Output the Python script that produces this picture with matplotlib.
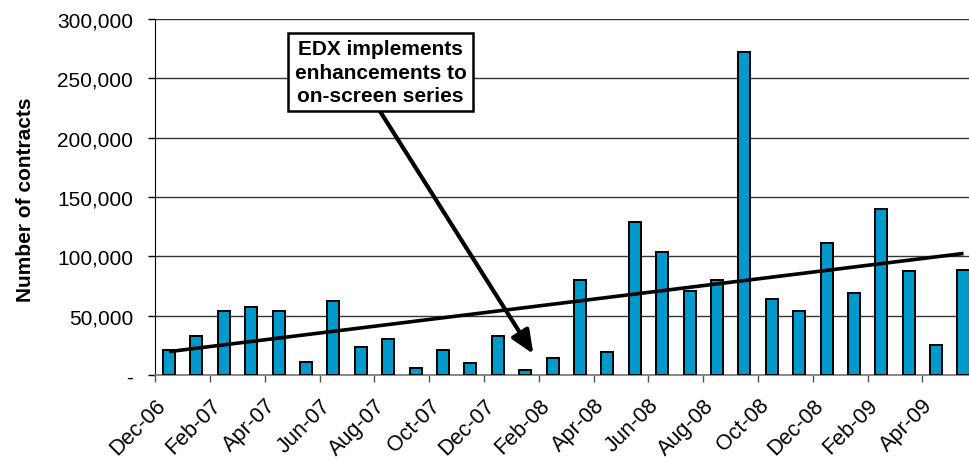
import matplotlib
matplotlib.use("Agg")
import matplotlib.pyplot as plt
import numpy as np

plt.rcParams['font.family'] = ['Liberation Sans', 'DejaVu Sans']

months = ["Dec-06", "Jan-07", "Feb-07", "Mar-07", "Apr-07", "May-07", "Jun-07", "Jul-07",
          "Aug-07", "Sep-07", "Oct-07", "Nov-07", "Dec-07", "Jan-08", "Feb-08", "Mar-08",
          "Apr-08", "May-08", "Jun-08", "Jul-08", "Aug-08", "Sep-08", "Oct-08", "Nov-08",
          "Dec-08", "Jan-09", "Feb-09", "Mar-09", "Apr-09", "May-09"]
contracts = [21100, 33100, 54200, 57000, 54200, 11200, 62600, 23900, 30600, 5600,
             21100, 9800, 33100, 4200, 14000, 80300, 19700, 129200, 103900, 70800,
             80300, 272200, 63800, 54200, 111000, 69400, 140200, 87400, 25000, 88800]
yticks = [0, 50000, 100000, 150000, 200000, 250000, 300000]
ytick_labels = ["-", "50,000", "100,000", "150,000", "200,000", "250,000", "300,000"]
note = "EDX implements\nenhancements to\non-screen series"

fig = plt.figure(figsize=(9.69, 4.60), dpi=100)
ax = fig.add_axes([155.3 / 969, 1 - 376 / 460, (969 - 155.3) / 969, 356 / 460])

x = np.arange(len(contracts)) + 0.5
ax.bar(x, contracts, width=0.44, color="#0099CC", edgecolor="black", linewidth=1.4, zorder=3)

# linear trendline
coef = np.polyfit(x, contracts, 1)
ax.plot([x[0], x[-1]], np.polyval(coef, [x[0], x[-1]]), color="black", lw=2.6, zorder=4,
        solid_capstyle="butt")

ax.set_xlim(0, 29.7)
ax.set_ylim(0, 300000)
ax.set_yticks(yticks)
ax.set_yticklabels(ytick_labels, fontsize=15)
tick_pos = np.arange(0, len(months), 2)
ax.set_xticks(tick_pos)
ax.set_xticklabels([months[i] for i in tick_pos], fontsize=15.5, rotation=45,
                   ha="right", va="top", rotation_mode="anchor")
ax.tick_params(axis="y", length=5, width=1, pad=11, color="black")
ax.tick_params(axis="x", length=5, width=1, pad=9, color="#555555")

ax.grid(axis="y", color="#333333", lw=1, zorder=0)
ax.set_axisbelow(True)
for s in ["top", "right"]:
    ax.spines[s].set_visible(False)
ax.spines["left"].set_color("black")
ax.spines["bottom"].set_color("#777777")
ax.spines["bottom"].set_linewidth(1.2)

ax.set_ylabel("Number of contracts", fontsize=15, fontweight="bold")
ax.yaxis.set_label_coords(-0.148, 0.494)

# annotation arrow and box
ax.annotate("", xy=(13.8, 17700), xytext=(8.22, 221600),
            arrowprops=dict(arrowstyle="-|>,head_length=1.4,head_width=0.6",
                            color="black", lw=3.0, shrinkA=0, shrinkB=0), zorder=6)
ax.text(8.22, 255300, note, fontsize=15, fontweight="bold", ha="center", va="center",
        linespacing=1.28, zorder=7,
        bbox=dict(boxstyle="square,pad=0.3", fc="white", ec="black", lw=1.8))

fig.savefig("out.png", dpi=100)
